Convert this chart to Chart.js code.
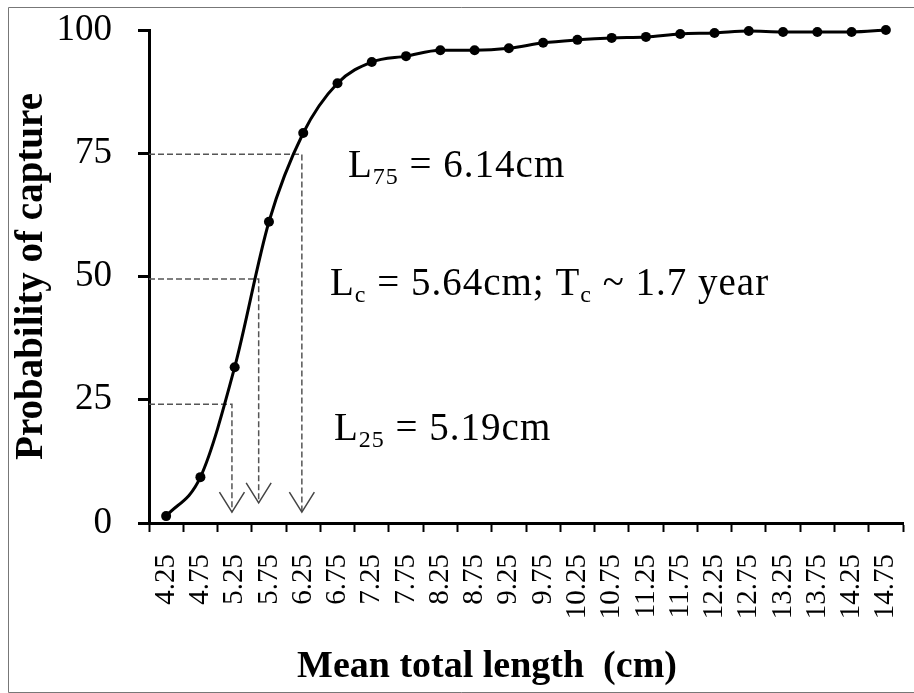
<!DOCTYPE html>
<html>
<head>
<meta charset="utf-8">
<script src="https://cdn.jsdelivr.net/npm/chart.js@4.4.0/dist/chart.umd.min.js"></script>
<style>
  html, body { margin: 0; padding: 0; background: #fff; }
  canvas { display: block; }
</style>
</head>
<body>
<canvas id="myChart" width="914" height="693"></canvas>
<script>
// Selection curve data
const lengths = ["4.25", "4.75", "5.25", "5.75", "6.25", "6.75", "7.25", "7.75", "8.25", "8.75", "9.25",
  "9.75", "10.25", "10.75", "11.25", "11.75", "12.25", "12.75", "13.25", "13.75", "14.25", "14.75"];
const capture = [1.4, 9.3, 31.6, 61.1, 79.1, 89.2, 93.5, 94.7, 95.9, 95.9, 96.3,
  97.4, 98.0, 98.4, 98.6, 99.2, 99.4, 99.8, 99.6, 99.6, 99.6, 100];
const yTicks = [0, 25, 50, 75, 100];

// Dashed drop lines (L25, Lc, L75)
const dropX = [5.21, 5.60, 6.23];
const dropY = [24.1, 49.5, 74.8];
const tipY = [2.2, 4.1, 2.2];

// Annotation texts: [main, subscript, main, subscript, main]
const notes = [
  ["L", "75", " = 6.14cm"],
  ["L", "c", " = 5.64cm; T", "c", " ~ 1.7 year"],
  ["L", "25", " = 5.19cm"]
];

const serif = "'Liberation Serif', 'Times New Roman', serif";

const frame = {
  id: "frame",
  beforeDraw(chart) {
    const c = chart.ctx;
    c.save();
    c.fillStyle = "#fff";
    c.fillRect(0, 0, chart.width, chart.height);
    c.strokeStyle = "#777";
    c.lineWidth = 1;
    c.beginPath();
    c.moveTo(914, 7.5);
    c.lineTo(8.5, 7.5);
    c.lineTo(8.5, 692.5);
    c.lineTo(914, 692.5);
    c.stroke();
    c.restore();
  }
};

const extras = {
  id: "extras",
  afterDatasetsDraw(chart) {
    const c = chart.ctx;
    const xs = chart.scales.xl;
    const ys = chart.scales.y;
    c.save();

    // open arrow heads at the end of each drop line
    c.strokeStyle = "#444";
    c.lineWidth = 1.5;
    dropX.forEach((v, i) => {
      const px = xs.getPixelForValue(v);
      const py = ys.getPixelForValue(tipY[i]);
      c.beginPath();
      c.moveTo(px - 12.5, py - 20);
      c.lineTo(px, py);
      c.lineTo(px + 12.5, py - 20);
      c.stroke();
    });

    // annotation texts
    const spots = [[348, 177], [330, 295], [334, 440]];
    c.fillStyle = "#000";
    c.textBaseline = "alphabetic";
    c.textAlign = "left";
    c.letterSpacing = "1px";
    notes.forEach((parts, i) => {
      let x = spots[i][0];
      const y = spots[i][1];
      parts.forEach((p, k) => {
        const sub = k % 2 === 1;
        c.font = (sub ? "24px " : "39px ") + serif;
        c.fillText(p, x, sub ? y + 7 : y);
        x += c.measureText(p).width;
      });
    });
    c.letterSpacing = "0px";

    // x axis title
    c.font = "bold 38px " + serif;
    c.textAlign = "center";
    c.fillText("Mean total length  (cm)", 487, 677);
    c.restore();
  }
};

function noPadding(scale) {
  scale.paddingTop = 0;
  scale.paddingBottom = 0;
  scale.paddingLeft = 0;
  scale.paddingRight = 0;
}

const ctx = document.getElementById("myChart");
const myChart = new Chart(ctx, {
  type: "line",
  data: {
    labels: lengths,
    datasets: [
      {
        data: capture,
        xAxisID: "x",
        borderColor: "#000",
        backgroundColor: "#000",
        borderWidth: 3,
        pointRadius: 5,
        pointBackgroundColor: "#000",
        pointBorderWidth: 0,
        cubicInterpolationMode: "monotone",
        clip: 10,
      },
      ...dropX.map((v, i) => ({
        data: [{ x: 4.0, y: dropY[i] }, { x: v, y: dropY[i] }, { x: v, y: tipY[i] }],
        xAxisID: "xl",
        borderColor: "#555",
        borderWidth: 1.5,
        borderDash: [6, 3],
        pointRadius: 0,
        tension: 0,
      })),
    ],
  },
  options: {
    responsive: false,
    animation: false,
    layout: { padding: { top: 30, right: 11, left: 0, bottom: 0 } },
    plugins: {
      legend: { display: false },
      tooltip: { enabled: false },
    },
    scales: {
      x: {
        type: "category",
        offset: true,
        grid: {
          offset: true,
          drawOnChartArea: false,
          drawTicks: true,
          tickLength: 9,
          tickWidth: 2,
          tickColor: "#000",
        },
        border: { display: true, color: "#000", width: 3 },
        ticks: {
          autoSkip: false,
          minRotation: 90,
          maxRotation: 90,
          padding: 22,
          color: "#000",
          font: { family: serif, size: 29 },
        },
        afterFit(scale) {
          scale.height = 170;
          noPadding(scale);
        },
      },
      xl: {
        type: "linear",
        display: false,
        position: "bottom",
        min: 4.0,
        max: 15.0,
        afterFit: noPadding,
      },
      y: {
        min: 0,
        max: 100,
        afterBuildTicks(scale) {
          scale.ticks = yTicks.map((v) => ({ value: v }));
        },
        grid: {
          drawOnChartArea: false,
          drawTicks: true,
          tickLength: 11,
          tickWidth: 3,
          tickColor: "#000",
        },
        border: { display: true, color: "#000", width: 3 },
        ticks: {
          padding: 26,
          color: "#000",
          font: { family: serif, size: 37 },
        },
        title: {
          display: true,
          text: "Probability of capture",
          color: "#000",
          font: { family: serif, size: 39, weight: "bold" },
          padding: { top: 9, bottom: 0 },
        },
        afterFit(scale) {
          scale.width = 149;
          noPadding(scale);
        },
      },
    },
  },
  plugins: [frame, extras],
});
</script>
</body>
</html>
